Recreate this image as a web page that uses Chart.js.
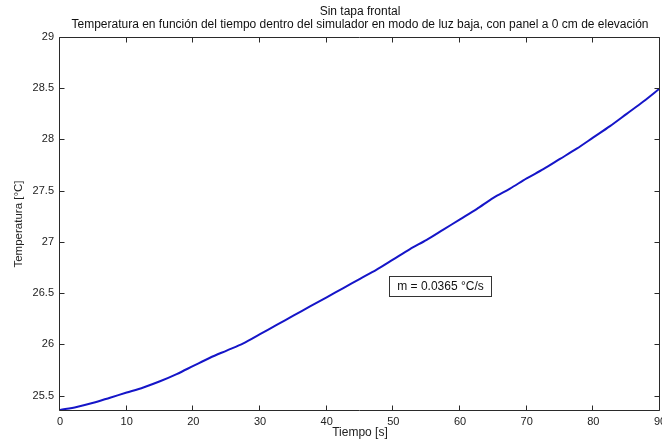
<!DOCTYPE html>
<html><head><meta charset="utf-8">
<script src="https://cdn.jsdelivr.net/npm/chart.js@4.4.0/dist/chart.umd.min.js"></script>
<style>html,body{margin:0;padding:0;background:#fff;}#wrap{width:662px;height:439px;}canvas{display:block;}</style>
</head><body><div id="wrap"><canvas id="c" width="662" height="439"></canvas></div>
<script>
const titleLines = ['Sin tapa frontal', 'Temperatura en función del tiempo dentro del simulador en modo de luz baja, con panel a 0 cm de elevación'];
const xLabel = 'Tiempo [s]';
const yLabel = 'Temperatura [°C]';
const timeS = [0, 2.5, 5, 7.5, 10, 12.5, 15, 17.5, 20, 22.5, 25, 27.5, 30, 32.5, 35, 37.5, 40, 42.5, 45, 47.5, 50, 52.5, 55, 57.5, 60, 62.5, 65, 67.5, 70, 72.5, 75, 77.5, 80, 82.5, 85, 87.5, 90];
const tempC = [25.36, 25.39, 25.43, 25.48, 25.53, 25.58, 25.64, 25.71, 25.79, 25.87, 25.94, 26.01, 26.10, 26.19, 26.28, 26.37, 26.46, 26.55, 26.64, 26.73, 26.83, 26.93, 27.02, 27.12, 27.22, 27.32, 27.43, 27.52, 27.62, 27.71, 27.81, 27.91, 28.02, 28.13, 28.25, 28.37, 28.50];
const xTicks = [0, 10, 20, 30, 40, 50, 60, 70, 80, 90];
const yTicks = [25.5, 26, 26.5, 27, 27.5, 28, 28.5, 29];
const slopeText = 'm = 0.0365 °C/s';
const slopeAnchor = [49.4, 26.67];

const FONT = 'Liberation Sans, Arial, sans-serif';
const AX = '#2a2a2a';

const boxPlugin = {
  id: 'matlabBox',
  afterDraw(chart) {
    const {ctx, chartArea: a, scales: {x, y}} = chart;
    ctx.save();
    ctx.strokeStyle = AX;
    ctx.lineWidth = 1;
    const L = Math.round(a.left) - 0.5, R = Math.round(a.right) - 0.5;
    const T = Math.round(a.top) + 0.5, B = Math.round(a.bottom) - 0.5;
    ctx.beginPath();
    ctx.rect(L, T, R - L, B - T);
    const tl = 5;
    x.ticks.forEach(t => {
      const px = Math.round(x.getPixelForValue(t.value)) - 0.5;
      ctx.moveTo(px, B); ctx.lineTo(px, B - tl);
      ctx.moveTo(px, T); ctx.lineTo(px, T + tl);
    });
    y.ticks.forEach(t => {
      const py = Math.round(y.getPixelForValue(t.value)) + 0.5;
      ctx.moveTo(L, py); ctx.lineTo(L + tl, py);
      ctx.moveTo(R, py); ctx.lineTo(R - tl, py);
    });
    ctx.stroke();
    // slope annotation
    ctx.font = '12px ' + FONT;
    const bx = Math.round(x.getPixelForValue(slopeAnchor[0])) + 0.5;
    const by = Math.round(y.getPixelForValue(slopeAnchor[1])) + 0.5;
    const w = 102, h = 20;
    ctx.fillStyle = '#fff';
    ctx.fillRect(bx, by, w, h);
    ctx.strokeStyle = '#333';
    ctx.strokeRect(bx, by, w, h);
    ctx.fillStyle = '#111';
    ctx.textAlign = 'center';
    ctx.textBaseline = 'middle';
    ctx.fillText(slopeText, bx + w / 2, by + h / 2 + 0.5);
    ctx.restore();
  }
};

new Chart(document.getElementById('c'), {
  type: 'line',
  data: {
    datasets: [{
      data: timeS.map((t, i) => ({x: t, y: tempC[i]})),
      borderColor: '#1515c8',
      borderWidth: 2,
      pointRadius: 0,
      tension: 0.3,
      fill: false
    }]
  },
  options: {
    responsive: false,
    devicePixelRatio: 1,
    animation: false,
    layout: {padding: {left: 0, right: 2, top: 0, bottom: 0}},
    plugins: {
      legend: {display: false},
      tooltip: {enabled: false},
      title: {
        display: true,
        fullSize: false,
        text: titleLines,
        color: '#111',
        font: {family: FONT, size: 12, weight: 'normal', lineHeight: 13 / 12},
        padding: {top: 5, bottom: 6}
      }
    },
    scales: {
      x: {
        type: 'linear',
        min: 0, max: 90,
        grid: {display: false, drawTicks: false},
        border: {display: false},
        afterBuildTicks: s => { s.ticks = xTicks.map(v => ({value: v})); },
        afterFit: s => { s.height = 28; s.paddingLeft = 0; s.paddingRight = 0; },
        ticks: {color: '#222', padding: 4, maxRotation: 0, autoSkip: false, font: {family: FONT, size: 11}, callback: v => String(v)},
        title: {display: true, text: xLabel, color: '#222', padding: {top: 0, bottom: 0}, font: {family: FONT, size: 12, lineHeight: 1.1}}
      },
      y: {
        type: 'linear',
        min: 25.35, max: 29,
        grid: {display: false, drawTicks: false},
        border: {display: false},
        afterBuildTicks: s => { s.ticks = yTicks.map(v => ({value: v})); },
        afterFit: s => { s.width = 60; s.paddingTop = 0; s.paddingBottom = 0; },
        ticks: {color: '#222', padding: 6, autoSkip: false, font: {family: FONT, size: 11}, callback: v => String(v)},
        title: {display: true, text: yLabel, color: '#222', padding: {top: 12, bottom: 0}, font: {family: FONT, size: 11.5, lineHeight: 1.2}}
      }
    }
  },
  plugins: [boxPlugin]
});
</script>
</body></html>
